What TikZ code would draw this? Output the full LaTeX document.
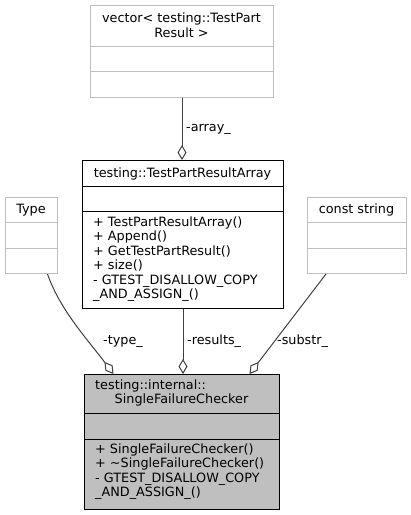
\documentclass[tikz,border=0pt]{standalone}
\usepackage{fontspec}
\setmainfont{DejaVu Sans}
\usetikzlibrary{arrows.meta}
\definecolor{lightline}{HTML}{BFBFBF}
\definecolor{edgecol}{HTML}{404040}
\definecolor{sfcfill}{HTML}{BFBFBF}
\begin{document}
\begin{tikzpicture}[x=1pt,y=-1pt,
  font=\fontsize{12.8}{14.5}\selectfont,
  classbox/.style={draw, line width=1pt, inner sep=0pt, anchor=north west},
  extbox/.style={classbox, draw=lightline},
  mainbox/.style={classbox, draw=black},
  txt/.style={inner sep=0pt, anchor=base},
  mem/.style={inner sep=0pt, anchor=base west},
  lbl/.style={inner sep=0pt, anchor=base west},
  agg/.style={draw=edgecol, line width=1pt, -{Diamond[open, length=15pt, width=9pt, line width=1pt]}}
]
\useasboundingbox (0,0) rectangle (411,515);

% vector< testing::TestPartResult >
\node[extbox, minimum width=183pt, minimum height=92pt] (vec) at (90,5) {};
\draw[lightline, line width=1pt] (90,46) -- (273,46) (90,71) -- (273,71);
\node[txt] (vect1) at (181.5,22.5) {vector< testing::TestPart};
\node[txt] (vect2) at (181.5,37) {Result >};

% testing::TestPartResultArray
\node[mainbox, minimum width=201pt, minimum height=148pt] (tpra) at (82,160) {};
\draw[line width=1pt] (82,186) -- (283,186) (82,211) -- (283,211);
\node[txt] (tprat) at (182.5,177) {testing::TestPartResultArray};
\node[mem] (tm1) at (93,226) {+ TestPartResultArray()};
\node[mem] (tm2) at (93,240.5) {+ Append()};
\node[mem] (tm3) at (93,255) {+ GetTestPartResult()};
\node[mem] (tm4) at (93,269.5) {+ size()};
\node[mem] (tm5) at (93,284) {- GTEST\_DISALLOW\_COPY};
\node[mem] (tm6) at (93,298.5) {\_AND\_ASSIGN\_()};

% Type
\node[extbox, minimum width=52pt, minimum height=76pt] (type) at (5,197) {};
\draw[lightline, line width=1pt] (5,222) -- (57,222) (5,248) -- (57,248);
\node[txt] (typet) at (31,213.5) {Type};

% const string
\node[extbox, minimum width=99pt, minimum height=76pt] (cstr) at (307,197) {};
\draw[lightline, line width=1pt] (307,222) -- (406,222) (307,248) -- (406,248);
\node[txt] (cstrt) at (356.5,213.5) {const string};

% testing::internal::SingleFailureChecker
\node[mainbox, fill=sfcfill, minimum width=195pt, minimum height=135pt] (sfc) at (84,374) {};
\draw[line width=1pt] (84,413) -- (279,413) (84,439) -- (279,439);
\node[mem] (sfct1) at (95,389) {testing::internal::};
\node[txt] (sfct2) at (181.5,403.5) {SingleFailureChecker};
\node[mem] (sm1) at (95,453) {+ SingleFailureChecker()};
\node[mem] (sm2) at (95,467.5) {+ \textasciitilde SingleFailureChecker()};
\node[mem] (sm3) at (95,482) {- GTEST\_DISALLOW\_COPY};
\node[mem] (sm4) at (95,496.5) {\_AND\_ASSIGN\_()};

% connectors
\coordinate (typeout) at ([xshift=16pt]type.south);
\coordinate (typein) at ([xshift=-68.5pt]sfc.north);
\coordinate (cstrout) at ([xshift=19pt]cstr.south west);
\coordinate (cstrin) at ([xshift=67.5pt]sfc.north);
\draw[agg] (vec.south) -- (vec.south |- tpra.north);
\draw[agg] (tpra.south) -- (tpra.south |- sfc.north);
\draw[agg] (typeout) .. controls (60,310) and (88,340) .. (typein);
\draw[agg] (cstrout) -- (cstrin);

% labels
\node[lbl] (la) at (186,131) {-array\_};
\node[lbl] (lt) at (103,344) {-type\_};
\node[lbl] (lr) at (187,344) {-results\_};
\node[lbl] (ls) at (277,344) {-substr\_};
\end{tikzpicture}
\end{document}
